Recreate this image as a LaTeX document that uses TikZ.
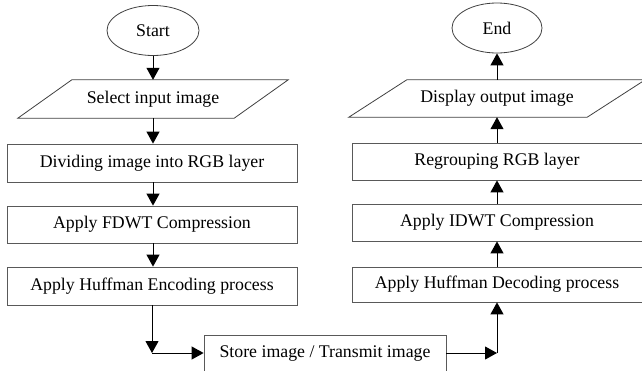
\documentclass[tikz,border=0pt]{standalone}
\usepackage{fontspec}
\setmainfont{Liberation Serif}
\usetikzlibrary{arrows.meta,shapes.geometric}
\begin{document}
\begin{tikzpicture}[x=1pt,y=-1pt,
  every node/.style={font=\fontsize{17.8}{20}\selectfont, text=black, inner sep=0pt},
  procbox/.style={draw=black!65, line width=0.8pt, minimum width=290pt, minimum height=37pt},
  termnode/.style={draw=black!75, line width=0.8pt, ellipse, minimum width=92pt, minimum height=50pt},
  ionode/.style={minimum width=#1, minimum height=38pt},
  iolines/.style={draw=black!75, line width=0.8pt},
  flow/.style={draw=black, line width=1pt, -{Triangle[width=13pt,length=12pt]}}
]
\useasboundingbox (0,0) rectangle (642,370);
% left column
\node[termnode] (start) at (153,30.5) {Start};
\node[ionode=216pt] (sel) at (153,99) {Select input image};
\draw[iolines] ([xshift=27pt]sel.north west) -- ([xshift=27pt]sel.north east)
  -- ([xshift=-27pt]sel.south east) -- ([xshift=-27pt]sel.south west) -- cycle;
\node[procbox, minimum height=38pt] (div) at (152,163) {Dividing image into RGB layer};
\node[procbox] (fdwt) at (152,224.5) {Apply FDWT Compression};
\node[procbox, minimum height=38pt] (enc) at (152,286) {Apply Huffman Encoding process};
% bottom
\node[draw=black!65, line width=0.8pt, minimum width=242pt, minimum height=38pt] (store) at (325,354) {Store image / Transmit image};
% right column
\node[procbox, minimum width=294pt, minimum height=35pt] (dec) at (499,284.5) {\hspace*{-4pt}Apply Huffman Decoding process};
\node[procbox, minimum width=294pt] (idwt) at (499,222.5) {\hspace*{-4pt}Apply IDWT Compression};
\node[procbox, minimum width=294pt] (reg) at (499,161.5) {\hspace*{-4pt}Regrouping RGB layer};
\node[ionode=238pt, minimum height=37pt] (disp) at (497,98.5) {Display output image};
\draw[iolines] ([xshift=29pt]disp.north west) -- ([xshift=29pt]disp.north east)
  -- ([xshift=-29pt]disp.south east) -- ([xshift=-29pt]disp.south west) -- cycle;
\node[termnode, minimum width=90pt] (end) at (497,28) {End};
% corner points
\coordinate (c1) at (152,353);
\coordinate (c2) at (497,353);
% connectors
\draw[flow] (start.south) -- (start.south |- sel.north);
\draw[flow] (start.south |- sel.south) -- (start.south |- div.north);
\draw[flow] (start.south |- div.south) -- (start.south |- fdwt.north);
\draw[flow] (start.south |- fdwt.south) -- (start.south |- enc.north);
\draw[flow] (c1 |- enc.south) -- (c1);
\draw[flow] (c1) -- (store.west |- c1);
\draw[flow] (store.east |- c2) -- (c2);
\draw[flow] (c2) -- (c2 |- dec.south);
\draw[flow] (c2 |- dec.north) -- (c2 |- idwt.south);
\draw[flow] (c2 |- idwt.north) -- (c2 |- reg.south);
\draw[flow] (c2 |- reg.north) -- (c2 |- disp.south);
\draw[flow] (c2 |- disp.north) -- (end.south);
\end{tikzpicture}
\end{document}
